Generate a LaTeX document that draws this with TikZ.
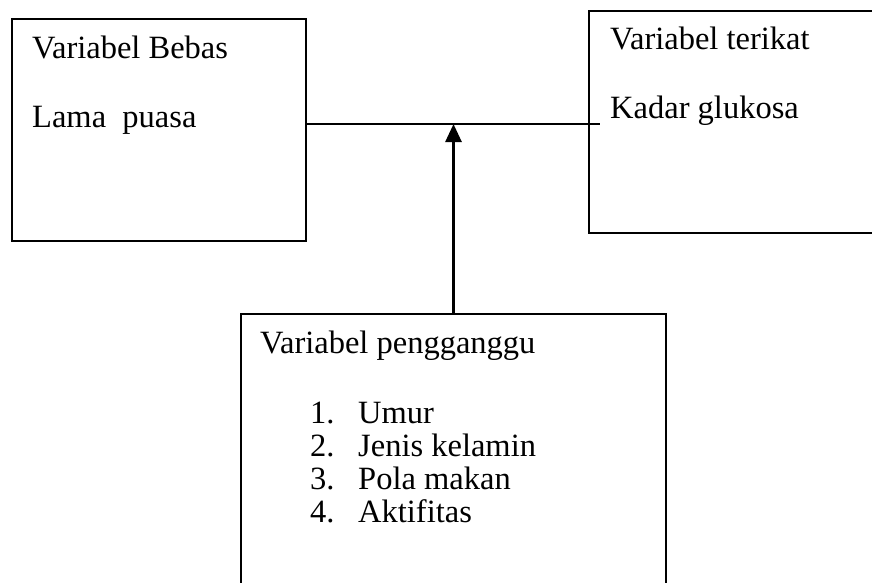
\documentclass[tikz,border=0pt]{standalone}
\usepackage{fontspec}
\setmainfont{Liberation Serif}
\usetikzlibrary{arrows.meta}
\begin{document}
\begin{tikzpicture}[x=1pt,y=-1pt,
  box/.style={draw=black,line width=1.7pt,minimum width=#1,inner sep=0pt,outer sep=0pt},
  txt/.style={anchor=base west,inner sep=0pt,font=\fontsize{32.5}{38}\selectfont},
  conn/.style={line width=1.9pt}]
\useasboundingbox (0,0) rectangle (872,583);
\clip (0,0) rectangle (872,583);
\node[box=294pt,minimum height=222pt] (bebas) at (159,130) {};
\node[box=291pt,minimum height=222pt] (terikat) at (734.5,122) {};
\node[box=425pt,minimum height=286pt] (ganggu) at (453.5,457) {};
\node[txt] (t1) at (32,59) {Variabel Bebas};
\node[txt] (t2) at (32,128) {Lama\ \ puasa};
\node[txt] (t3) at (610,50) {Variabel terikat};
\node[txt] (t4) at (610,119) {Kadar glukosa};
\node[txt] (t5) at (260,353) {Variabel pengganggu};
\node[txt] (n1) at (310,423) {1.};
\node[txt] (n2) at (310,456) {2.};
\node[txt] (n3) at (310,489) {3.};
\node[txt] (n4) at (310,522) {4.};
\node[txt] (i1) at (358,423) {Umur};
\node[txt] (i2) at (358,456) {Jenis kelamin};
\node[txt] (i3) at (358,489) {Pola makan};
\node[txt] (i4) at (358,522) {Aktifitas};
\coordinate (lineend) at (600,124);
\draw[conn] (bebas.east |- lineend) -- (lineend);
\draw[line width=2.6pt,-{Triangle[length=18pt,width=16pt]}] (ganggu.north) -- (ganggu.north |- lineend);
\end{tikzpicture}
\end{document}
